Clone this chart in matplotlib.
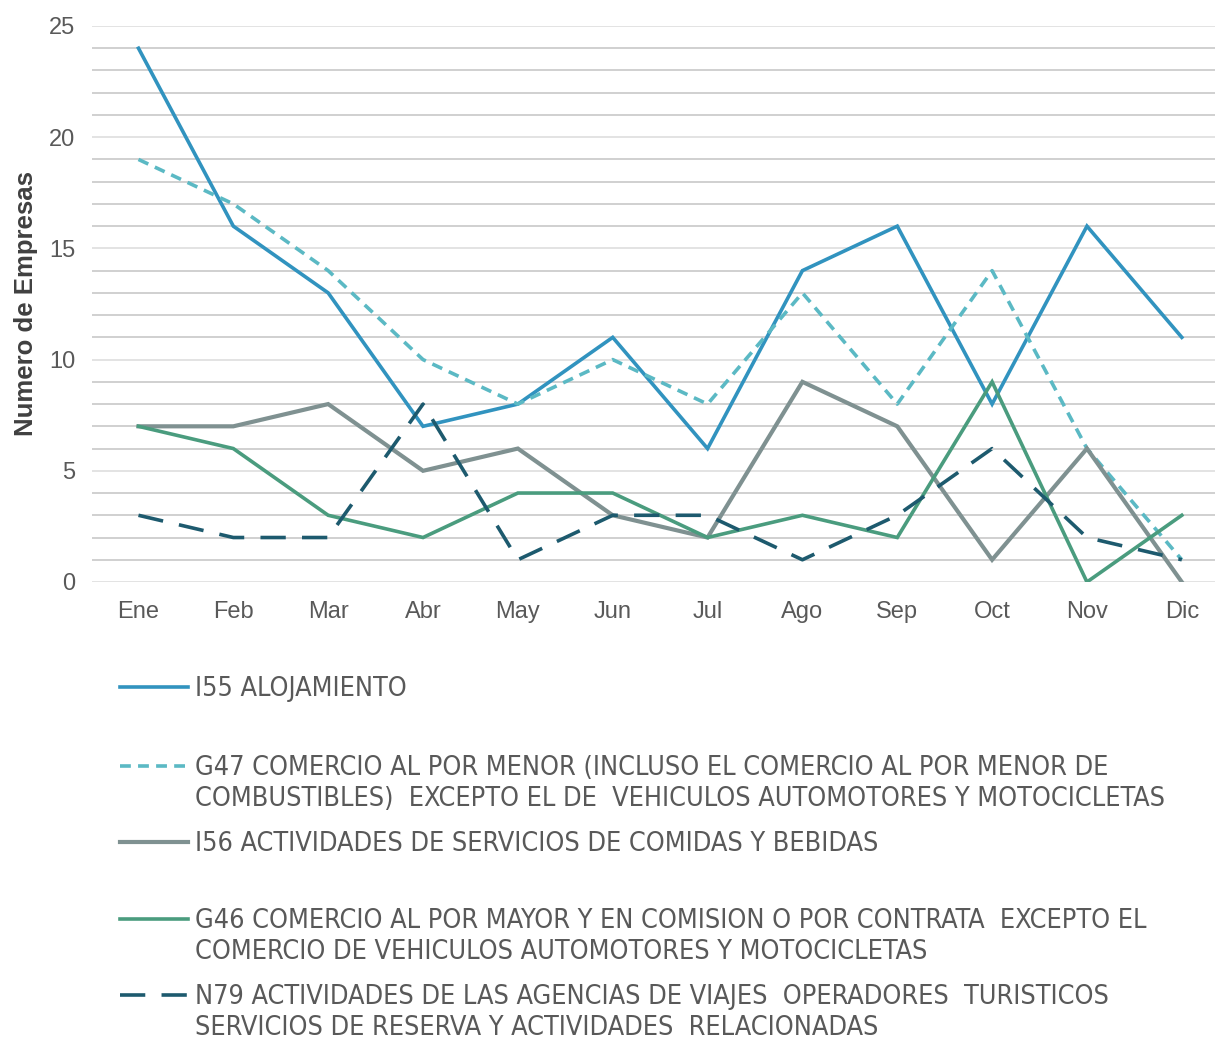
import matplotlib
matplotlib.use('Agg')
import matplotlib.pyplot as plt
from matplotlib.lines import Line2D
from matplotlib.ticker import MultipleLocator

months = ['Ene', 'Feb', 'Mar', 'Abr', 'May', 'Jun', 'Jul', 'Ago', 'Sep', 'Oct', 'Nov', 'Dic']

i55 = [24, 16, 13, 7, 8, 11, 6, 14, 16, 8, 16, 11]
g47 = [19, 17, 14, 10, 8, 10, 8, 13, 8, 14, 6, 1]
i56 = [7, 7, 8, 5, 6, 3, 2, 9, 7, 1, 6, 0]
g46 = [7, 6, 3, 2, 4, 4, 2, 3, 2, 9, 0, 3]
n79 = [3, 2, 2, 8, 1, 3, 3, 1, 3, 6, 2, 1]

labels = [
    'I55 ALOJAMIENTO',
    'G47 COMERCIO AL POR MENOR (INCLUSO EL COMERCIO AL POR MENOR DE\n'
    'COMBUSTIBLES)  EXCEPTO EL DE  VEHICULOS AUTOMOTORES Y MOTOCICLETAS',
    'I56 ACTIVIDADES DE SERVICIOS DE COMIDAS Y BEBIDAS',
    'G46 COMERCIO AL POR MAYOR Y EN COMISION O POR CONTRATA  EXCEPTO EL\n'
    'COMERCIO DE VEHICULOS AUTOMOTORES Y MOTOCICLETAS',
    'N79 ACTIVIDADES DE LAS AGENCIAS DE VIAJES  OPERADORES  TURISTICOS\n'
    'SERVICIOS DE RESERVA Y ACTIVIDADES  RELACIONADAS',
]

plt.rcParams['font.family'] = ['Liberation Sans', 'DejaVu Sans']

W, H = 1215, 1039
fig = plt.figure(figsize=(W / 100, H / 100), dpi=100)
ax = fig.add_axes([92 / W, 1 - 582 / H, (1215 - 92) / W, (582 - 26) / H])

x = list(range(len(months)))
styles = [
    dict(data=i55, color='#3193bf', lw=2.6, ls='-'),
    dict(data=g47, color='#5bb9c4', lw=2.6, ls=(0, (3, 2))),
    dict(data=i56, color='#7f9191', lw=3.0, ls='-'),
    dict(data=g46, color='#4a9c7e', lw=2.6, ls='-'),
    dict(data=n79, color='#1d5a6e', lw=2.6, ls=(0, (7, 4.5))),
]
for s in styles:
    ax.plot(x, s['data'], color=s['color'], lw=s['lw'], linestyle=s['ls'],
            solid_joinstyle='miter', zorder=3)

ax.set_xlim(-0.49, 11.35)
ax.set_ylim(0, 25)
ax.yaxis.set_major_locator(MultipleLocator(5))
ax.yaxis.set_minor_locator(MultipleLocator(1))
ax.grid(axis='y', which='minor', color='#c8c8c8', lw=1.2, zorder=0)
ax.grid(axis='y', which='major', color='#dedede', lw=1.2, zorder=0)
ax.set_xticks(x)
ax.set_xticklabels(months)
for sp in ax.spines.values():
    sp.set_visible(False)
ax.tick_params(axis='both', which='both', length=0, labelsize=17, labelcolor='#595959')
ax.tick_params(axis='x', pad=14)
ax.tick_params(axis='y', pad=12)
ax.set_ylabel('Numero de Empresas', fontsize=18.5, fontweight='bold', color='#404040', labelpad=8)

# legend drawn below the plot
legend_y = [687, 766, 842, 919, 995]
for s, lab, yy in zip(styles, labels, legend_y):
    fy = 1 - yy / H
    fig.add_artist(Line2D([120 / W, 188 / W], [fy, fy], transform=fig.transFigure,
                          color=s['color'], lw=s['lw'], linestyle=s['ls']))
    fig.text(195 / W, 1 - (yy - 11) / H, lab, ha='left', va='top', fontsize=19.4,
             color='#595959', family='DejaVu Sans', fontstretch='condensed',
             linespacing=1.25)

fig.savefig('out.png', dpi=100)
